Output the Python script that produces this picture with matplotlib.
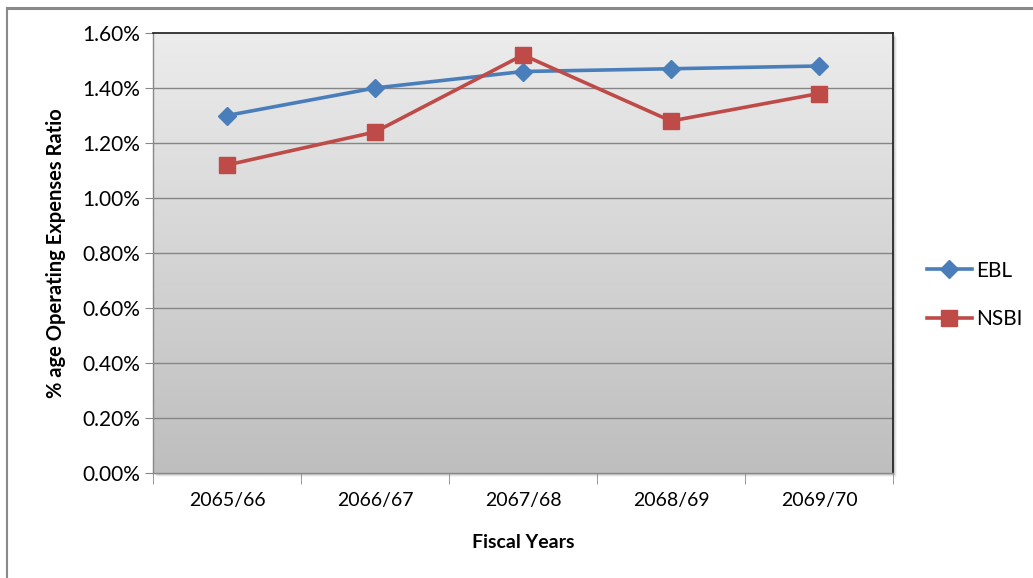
import numpy as np
import matplotlib
matplotlib.use("Agg")
import matplotlib.pyplot as plt
from matplotlib.lines import Line2D
from matplotlib.patches import Rectangle
from matplotlib.ticker import FixedLocator, FuncFormatter

plt.rcParams['font.family'] = ['Lato', 'DejaVu Sans']

years = ["2065/66", "2066/67", "2067/68", "2068/69", "2069/70"]
ebl = [1.30, 1.40, 1.46, 1.47, 1.48]
nsbi = [1.12, 1.24, 1.52, 1.28, 1.38]
y_ticks = [0.0, 0.2, 0.4, 0.6, 0.8, 1.0, 1.2, 1.4, 1.6]

W, H = 1033, 578
fig = plt.figure(figsize=(W / 100, H / 100), dpi=100)

# outer frame lines (top and left)
fig.add_artist(Line2D([7 / W, 1.0], [1 - 8 / H, 1 - 8 / H], color="#8a8a8a", lw=2.2))
fig.add_artist(Line2D([7 / W, 7 / W], [0, 1 - 8 / H], color="#8a8a8a", lw=1.5))

left, right, top, bottom = 153, 893, 33, 473
ax = fig.add_axes([left / W, 1 - bottom / H, (right - left) / W, (bottom - top) / H])

# soft drop shadow behind the plot area
for i, a in enumerate([0.10, 0.07, 0.04]):
    fig.add_artist(Rectangle(((left + 2 + i) / W, 1 - (bottom + 2 + i) / H),
                             (right - left) / W, (bottom - top) / H,
                             facecolor="black", alpha=a, edgecolor="none", zorder=-5))

ax.set_xlim(-0.5, len(years) - 0.5)

# vertical grey gradient background, light at the top
grad = np.linspace(236, 190, 256)[:, None] / 255.0
img = np.dstack([grad, grad, grad])
ax.imshow(img, extent=[-0.5, len(years) - 0.5, 0, 1.6], origin="upper", aspect="auto",
          zorder=0, interpolation="bilinear")
ax.set_ylim(0, 1.6)

for v in y_ticks[1:-1]:
    ax.axhline(v, color="#868686", lw=1.0, zorder=1)

x = np.arange(len(years))
ax.plot(x, ebl, color="#4a7ebb", lw=2.6, marker="D", ms=9, mfc="#4a7ebb", mec="#4a7ebb",
        zorder=3, label="EBL")
ax.plot(x, nsbi, color="#be4b48", lw=2.6, marker="s", ms=11, mfc="#be4b48", mec="#be4b48",
        zorder=3, label="NSBI")

for side in ["top", "right"]:
    ax.spines[side].set_color("#1a1a1a")
    ax.spines[side].set_linewidth(1.2)
for side in ["left", "bottom"]:
    ax.spines[side].set_color("#888888")
    ax.spines[side].set_linewidth(1.0)

ax.set_yticks(y_ticks)
ax.yaxis.set_major_formatter(FuncFormatter(lambda v, p: f"{v:.2f}%"))
ax.tick_params(axis="y", direction="out", length=6, color="#888888", labelsize=15, pad=3)

ax.set_xticks(x)
ax.set_xticklabels(years)
ax.tick_params(axis="x", which="major", length=0, labelsize=14, pad=14)
ax.xaxis.set_minor_locator(FixedLocator(np.arange(-0.5, len(years), 1.0)))
ax.tick_params(axis="x", which="minor", direction="out", length=8, color="#888888")

ax.set_xlabel("Fiscal Years", fontsize=14, fontweight="bold", labelpad=18)
ax.set_ylabel("% age Operating Expenses Ratio", fontsize=14.5, fontweight="bold", labelpad=12)

leg = ax.legend(loc="center left", bbox_to_anchor=(1.02, 0.405), frameon=False,
                fontsize=15, handlelength=2.2, labelspacing=1.35, handletextpad=0.2)

fig.savefig("out.png", dpi=100)
